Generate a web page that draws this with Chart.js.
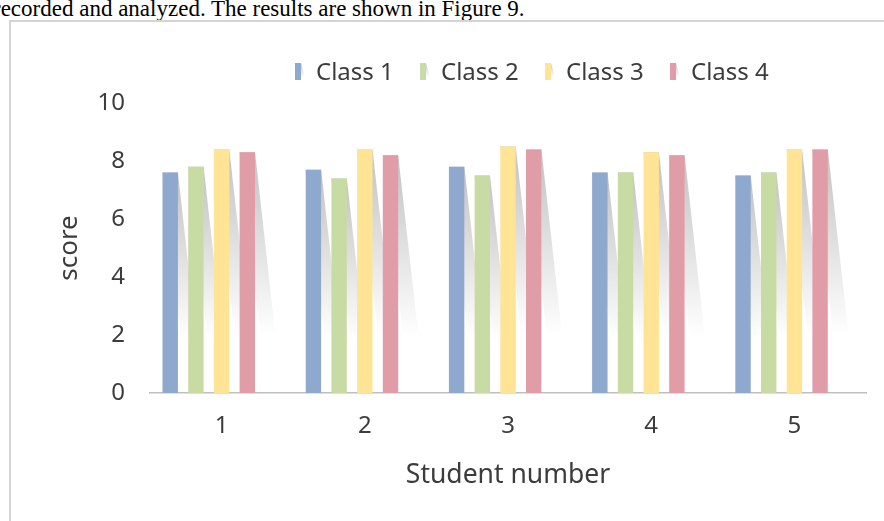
<!DOCTYPE html>
<html>
<head>
<meta charset="utf-8">
<script src="https://cdn.jsdelivr.net/npm/chart.js@4"></script>
<style>
  html, body { margin: 0; padding: 0; background: #fff; overflow: hidden; }
  body { width: 884px; height: 521px; position: relative; }
  #lead {
    position: absolute; left: -7px; top: -3px;
    font: 23px "Liberation Serif", "Times New Roman", serif;
    line-height: 23px; color: #000; white-space: nowrap;
  }
  #frame {
    position: absolute; left: 9px; top: 20px; width: 900px; height: 520px;
    border-left: 2px solid #d4d4d4; border-top: 2px solid #d4d4d4;
  }
  #wrap { position: absolute; left: 0; top: 0; width: 884px; height: 521px; }
</style>
</head>
<body>
<div id="lead">recorded and analyzed. The results are shown in Figure 9.</div>
<div id="frame"></div>
<div id="wrap"><canvas id="c" width="884" height="521"></canvas></div>
<script>
// Scores per class for each student number
const studentNumbers = ['1', '2', '3', '4', '5'];
const classNames = ['Class 1', 'Class 2', 'Class 3', 'Class 4'];
const class1Scores = [7.6, 7.7, 7.8, 7.6, 7.5];
const class2Scores = [7.8, 7.4, 7.5, 7.6, 7.6];
const class3Scores = [8.4, 8.4, 8.5, 8.3, 8.4];
const class4Scores = [8.3, 8.2, 8.4, 8.2, 8.4];
const scoreTicks = [0, 2, 4, 6, 8, 10];

const classColors = ['#8FA8CD', '#C9DBA4', '#FFE495', '#E09DA8'];
const TEXT = '#3c3c3c';
const FONT = '"Noto Sans", "Open Sans", sans-serif';

const seriesValues = [class1Scores, class2Scores, class3Scores, class4Scores];
const datasets = classNames.map((name, i) => ({
  label: name,
  data: seriesValues[i],
  backgroundColor: classColors[i],
  borderWidth: 0
}));
// empty trailing slot in each group (keeps the bar cluster left of the category centre)
datasets.push({ label: '', data: studentNumbers.map(() => null), spacer: true });

// slanted fading shadow behind each bar
const barShadow = {
  id: 'barShadow',
  beforeDatasetsDraw(chart) {
    const ctx = chart.ctx;
    chart.data.datasets.forEach((ds, i) => {
      if (ds.spacer) return;
      chart.getDatasetMeta(i).data.forEach(bar => {
        const p = bar.getProps(['x', 'y', 'base', 'width'], true);
        const h = p.base - p.y;
        const len = h * 0.76;
        const dx = h * 0.085;
        const l = p.x - p.width / 2, r = p.x + p.width / 2;
        const g = ctx.createLinearGradient(0, p.y, 0, p.y + len);
        g.addColorStop(0, 'rgba(0,0,0,0.24)');
        g.addColorStop(0.5, 'rgba(0,0,0,0.12)');
        g.addColorStop(1, 'rgba(0,0,0,0)');
        ctx.save();
        ctx.beginPath();
        ctx.moveTo(l, p.y);
        ctx.lineTo(r, p.y);
        ctx.lineTo(r + dx, p.y + len);
        ctx.lineTo(l + dx, p.y + len);
        ctx.closePath();
        ctx.fillStyle = g;
        ctx.fill();
        ctx.restore();
      });
    });
  }
};

// single-row legend with slim markers
const legendRow = {
  id: 'legendRow',
  afterDraw(chart, args, opts) {
    const ctx = chart.ctx;
    ctx.save();
    ctx.font = '24px ' + FONT;
    ctx.textBaseline = 'alphabetic';
    let k = 0;
    chart.data.datasets.forEach(ds => {
      if (ds.spacer) return;
      const x0 = opts.left + k * opts.step;
      const g = ctx.createLinearGradient(0, opts.top, 0, opts.top + 14);
      g.addColorStop(0, 'rgba(0,0,0,0.22)');
      g.addColorStop(1, 'rgba(0,0,0,0)');
      ctx.beginPath();
      ctx.moveTo(x0 + 6, opts.top);
      ctx.lineTo(x0 + 10, opts.top + 14);
      ctx.lineTo(x0 + 6, opts.top + 14);
      ctx.closePath();
      ctx.fillStyle = g;
      ctx.fill();
      ctx.fillStyle = ds.backgroundColor;
      ctx.fillRect(x0, opts.top, 6, 17);
      ctx.fillStyle = TEXT;
      ctx.fillText(ds.label, x0 + 21, opts.top + 17);
      k++;
    });
    ctx.restore();
  }
};

new Chart(document.getElementById('c'), {
  type: 'bar',
  data: { labels: studentNumbers, datasets },
  options: {
    responsive: false,
    animation: false,
    devicePixelRatio: 1,
    layout: { padding: { top: 103, right: 18, bottom: 0, left: 0 } },
    datasets: { bar: { categoryPercentage: 0.897, barPercentage: 0.6 } },
    plugins: {
      legend: { display: false },
      tooltip: { enabled: false },
      legendRow: { left: 295, top: 63, step: 125 }
    },
    scales: {
      x: {
        grid: { display: false, drawTicks: false },
        border: { display: true, color: '#BFBFBF', width: 1.5 },
        ticks: { color: TEXT, font: { family: FONT, size: 24 }, padding: 19 },
        title: {
          display: true, text: 'Student number', color: TEXT,
          font: { family: FONT, size: 26.5, lineHeight: 1.2 },
          padding: { top: 0, bottom: 30 }
        },
        afterFit(scale) { scale.height = 128; }
      },
      y: {
        min: 0, max: 10,
        afterBuildTicks(scale) { scale.ticks = scoreTicks.map(v => ({ value: v })); },
        grid: { display: false, drawTicks: false },
        border: { display: false },
        ticks: { color: TEXT, font: { family: FONT, size: 24 }, padding: 25 },
        title: {
          display: true, text: 'score', color: TEXT,
          font: { family: FONT, size: 26, lineHeight: 1.2 },
          padding: { top: 54, bottom: 0 }
        },
        afterFit(scale) { scale.width = 150; }
      }
    }
  },
  plugins: [barShadow, legendRow]
});
</script>
</body>
</html>
